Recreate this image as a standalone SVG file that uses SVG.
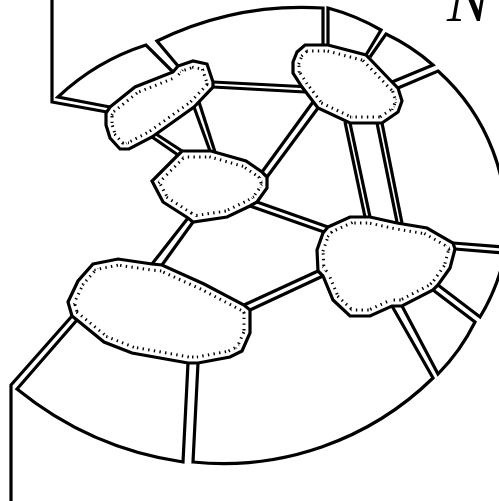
<svg xmlns="http://www.w3.org/2000/svg" xmlns:xlink="http://www.w3.org/1999/xlink" width="499" height="501" viewBox="0 0 499 501">
<style>
.ln{fill:none;stroke:#000;stroke-width:3.2;stroke-linejoin:miter;stroke-miterlimit:4;stroke-linecap:butt}
.tick{fill:none;stroke:#000;stroke-width:15;stroke-dasharray:1.4 4.3;stroke-linejoin:round}
.mask{fill:none;stroke:#fff;stroke-width:9;stroke-linejoin:round}
.out{fill:none;stroke:#000;stroke-width:3.2;stroke-linejoin:miter}
.lbl{font-family:"Liberation Serif","Times New Roman",serif;font-style:italic;font-size:64px;fill:#000}
</style>
<defs>
<polygon id="p1" points="110,107 135,87 173,72 178,66 193,61 207,64 213,82 213,87 194,107 152,137 129,149 120,149 110,138 106,125 106,113"/>
<polygon id="p2" points="178,155 182,151 211,151 246,161 262,172 267,177 267,188 257,202 250,206 227,217 193,222 188,218 163,202 152,181"/>
<polygon id="p3" points="293,62 297,52 305,45 328,45 366,55 392,82 398,88 402,101 398,112 382,123 350,123 318,108 302,87 293,73"/>
<polygon id="p4" points="93,264 118,259 152,264 162,265 204,284 244,305 250,310 250,333 242,351 230,357 198,363 188,363 132,353 104,342 77,320 72,316 68,302 78,281"/>
<polygon id="p5" points="328,227 350,217 370,217 397,223 427,228 453,243 455,249 450,268 438,285 433,290 402,306 392,306 370,316 350,316 333,300 323,276 318,271 317,250 323,233"/>
<clipPath id="c1"><use xlink:href="#p1"/></clipPath>
<clipPath id="c2"><use xlink:href="#p2"/></clipPath>
<clipPath id="c3"><use xlink:href="#p3"/></clipPath>
<clipPath id="c4"><use xlink:href="#p4"/></clipPath>
<clipPath id="c5"><use xlink:href="#p5"/></clipPath>
</defs>
<rect width="499" height="501" fill="#fff"/>

<g id="boundary">
<path class="ln" d="M110,107 L58,97 A230,230 0 0 1 146,45 L173,72"/>
<path class="ln" d="M178,66 L157,41 A330,330 0 0 1 323,8 L323,45"/>
<path class="ln" d="M328,45 L328,8 A220,220 0 0 1 381,30 L366,55"/>
<path class="ln" d="M370,57 L386,34 A200,200 0 0 1 433,65 L392,82"/>
<path class="ln" d="M398,88 L438,71 A205,205 0 0 1 505,247 L453,243"/>
<path class="ln" d="M455,249 L505,253 A200,200 0 0 1 480,317 L438,285"/>
<path class="ln" d="M433,290 L475,322 A200,200 0 0 1 438,374 L402,306"/>
<path class="ln" d="M392,306 L433,378 A300,300 0 0 1 193,462 L198,363"/>
<path class="ln" d="M188,363 L183,462 A340,340 0 0 1 17,389 L77,320"/>
<path class="ln" d="M52,0 L52,102 L107,112"/>
<path class="ln" d="M11,501 L11,385 L72,316"/>
</g>

<g id="connectors">
<path class="ln" d="M213,82 L301,86.5"/>
<path class="ln" d="M213,87 L305,92"/>
<path class="ln" d="M194,107 L210,151"/>
<path class="ln" d="M199,102 L215,152"/>
<path class="ln" d="M156,134 L182,151"/>
<path class="ln" d="M152,137 L178,155"/>
<path class="ln" d="M262,172 L313,102"/>
<path class="ln" d="M267,177 L318,108"/>
<path class="ln" d="M345,122 L365,217"/>
<path class="ln" d="M350,123 L370,217"/>
<path class="ln" d="M377,123 L397,222"/>
<path class="ln" d="M382,123 L402,223"/>
<path class="ln" d="M250,206 L324,232"/>
<path class="ln" d="M257,202 L328,227"/>
<path class="ln" d="M244,305 L318,271"/>
<path class="ln" d="M250,310 L323,276"/>
<path class="ln" d="M188,218 L152,264"/>
<path class="ln" d="M193,222 L162,265"/>
</g>

<g id="v1">
<use xlink:href="#p1" class="tick" clip-path="url(#c1)"/>
<use xlink:href="#p1" class="mask" clip-path="url(#c1)"/>
<use xlink:href="#p1" class="out"/>
</g>
<g id="v2">
<use xlink:href="#p2" class="tick" clip-path="url(#c2)"/>
<use xlink:href="#p2" class="mask" clip-path="url(#c2)"/>
<use xlink:href="#p2" class="out"/>
</g>
<g id="v3">
<use xlink:href="#p3" class="tick" clip-path="url(#c3)"/>
<use xlink:href="#p3" class="mask" clip-path="url(#c3)"/>
<use xlink:href="#p3" class="out"/>
</g>
<g id="v4">
<use xlink:href="#p4" class="tick" clip-path="url(#c4)"/>
<use xlink:href="#p4" class="mask" clip-path="url(#c4)"/>
<use xlink:href="#p4" class="out"/>
</g>
<g id="v5">
<use xlink:href="#p5" class="tick" clip-path="url(#c5)"/>
<use xlink:href="#p5" class="mask" clip-path="url(#c5)"/>
<use xlink:href="#p5" class="out"/>
</g>

<g id="label">
<text class="lbl" x="447" y="21">N</text>
</g>
</svg>
